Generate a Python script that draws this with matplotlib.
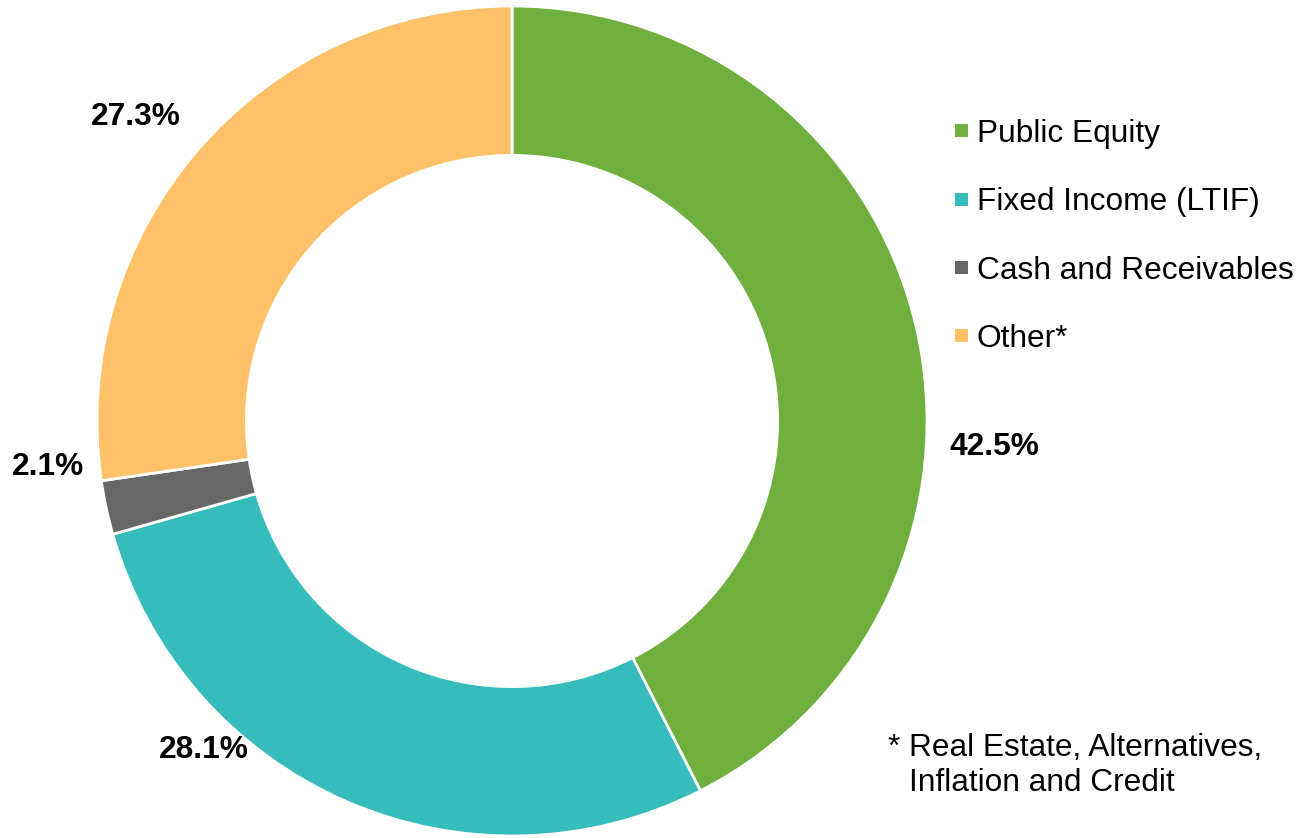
import matplotlib.pyplot as plt
from matplotlib.patches import Rectangle

categories = ['Public Equity', 'Fixed Income (LTIF)', 'Cash and Receivables', 'Other*']
values = [42.5, 28.1, 2.1, 27.3]
colors = ['#6FAF3D', '#35BCBB', '#676767', '#FEC167']
footnote = ['Real Estate, Alternatives,', 'Inflation and Credit']

# label positions (data coords, pie radius = 1)
label_pos = [(1.163, -0.063), (-0.743, -0.793), (-1.118, -0.111), (-0.906, 0.733)]

W, H = 1299, 838
plt.rcParams['font.family'] = ['Liberation Sans', 'DejaVu Sans']

fig = plt.figure(figsize=(W / 100, H / 100), dpi=100)
cx, cy, R = 512, 421, 415
ax = fig.add_axes([(cx - R) / W, (H - cy - R) / H, 2 * R / W, 2 * R / H])
ax.pie(values, colors=colors, startangle=90, counterclock=False, radius=1,
       wedgeprops=dict(width=0.36, edgecolor='white', linewidth=2))
ax.set_xlim(-1, 1)
ax.set_ylim(-1, 1)
ax.axis('off')

for v, (x, y) in zip(values, label_pos):
    ax.text(x, y, f'{v:.1f}%', ha='center', va='center',
            fontsize=22.8, fontweight='bold', color='black')

# legend drawn by hand
row0, step = 131, 68.3
for i, (cat, col) in enumerate(zip(categories, colors)):
    yc = row0 + i * step
    fig.add_artist(Rectangle((955 / W, (H - yc - 6.5) / H), 13 / W, 13 / H,
                             transform=fig.transFigure, facecolor=col, edgecolor='none'))
    fig.text(977 / W, (H - yc - 11) / H, cat, ha='left', va='baseline',
             fontsize=22.8, color='black')

fig.text(887 / W, (H - 745 - 11) / H, '*', ha='left', va='baseline', fontsize=22.8)
for i, line in enumerate(footnote):
    fig.text(909 / W, (H - 745 - 11 - i * 35) / H, line, ha='left', va='baseline',
             fontsize=22.8, color='black')

fig.savefig('out.png', dpi=100, facecolor='white')
